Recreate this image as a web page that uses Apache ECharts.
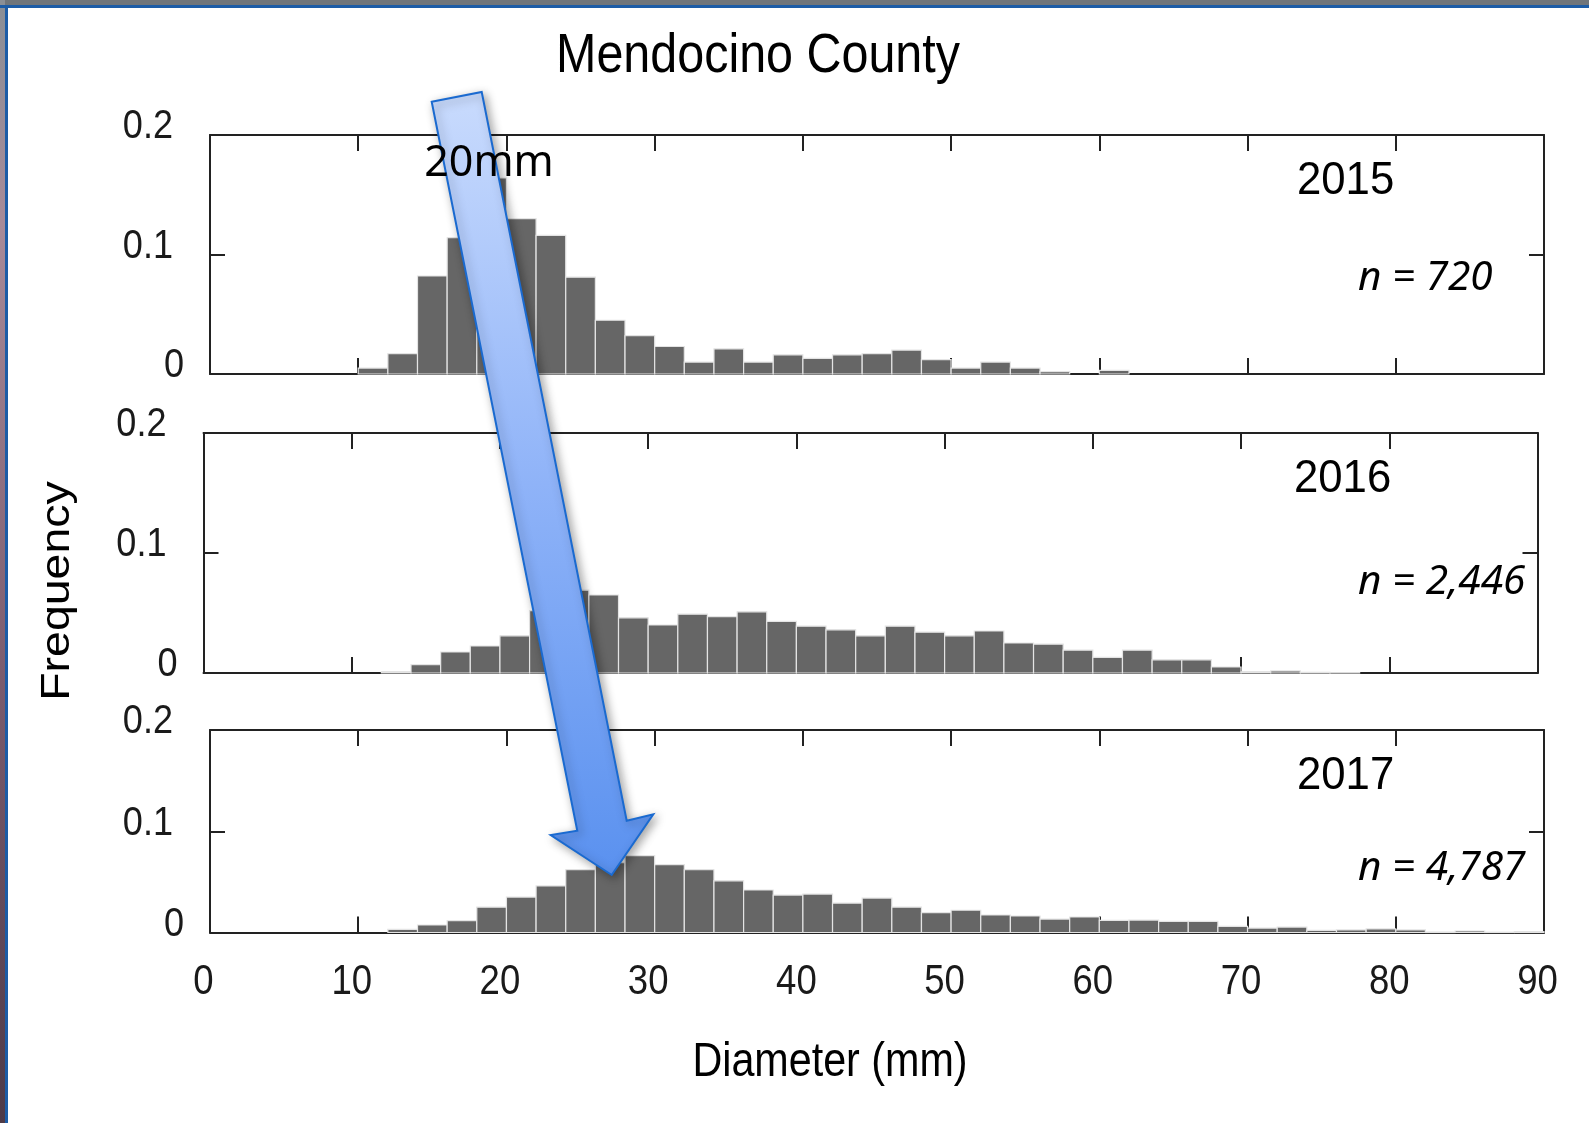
<!DOCTYPE html>
<html>
<head>
<meta charset="utf-8">
<script src="https://cdn.jsdelivr.net/npm/echarts@6/dist/echarts.min.js"></script>
<style>
html, body { margin: 0; padding: 0; background: #fff; }
#main { width: 1589px; height: 1123px; }
</style>
</head>
<body>
<div id="main"></div>
<script>
// left edges of the 2 mm diameter bins
var binStart = [10,12,14,16,18,20,22,24,26,28,30,32,34,36,38,40,42,44,46,48,
                50,52,54,56,58,60,62,64,66,68,70,72,74,76,78,80,82,84,86,88];
var binWidth = 2;

var freq2015 = [0.005,0.017,0.082,0.114,0.164,0.130,0.116,0.081,0.045,0.032,
                0.023,0.010,0.021,0.010,0.016,0.013,0.016,0.017,0.020,0.012,
                0.005,0.010,0.005,0.002,0,0.003,0,0,0,0,
                0,0,0,0,0,0,0,0,0,0];
var freq2016 = [0,0.001,0.007,0.0175,0.0225,0.031,0.052,0.069,0.065,0.046,
                0.040,0.049,0.047,0.051,0.043,0.039,0.036,0.031,0.039,0.034,
                0.031,0.035,0.025,0.024,0.019,0.013,0.019,0.011,0.011,0.005,
                0.001,0.0017,0.0006,0.0003,0,0,0,0,0,0];
var freq2017 = [0,0.003,0.0074,0.0117,0.025,0.035,0.046,0.062,0.069,0.076,
                0.067,0.062,0.051,0.042,0.037,0.038,0.029,0.034,0.025,0.0196,
                0.022,0.0173,0.0163,0.0133,0.0153,0.012,0.0123,0.011,0.011,0.0061,
                0.0044,0.0054,0.0021,0.0025,0.0035,0.0025,0.0005,0.0015,0.0003,0.0008];

var xTicks = [0, 10, 20, 30, 40, 50, 60, 70, 80, 90];
var yTicks = [0, 0.1, 0.2];
var years = ['2015', '2016', '2017'];
var counts = ['n = 720', 'n = 2,446', 'n = 4,787'];

var SANS = "'Liberation Sans', Arial, sans-serif";
var NOTO = "'Noto Sans', sans-serif";
var INK = '#1a1a1a';

var dom = document.getElementById('main');
var myChart = echarts.init(dom);

var grids = [
    {left: 210,   top: 135, width: 1334, height: 239},
    {left: 203.5, top: 433, width: 1334, height: 240},
    {left: 210,   top: 730, width: 1334, height: 202.5}
];

function binData(freq) {
    return binStart.map(function (b, i) { return [b, b + binWidth, freq[i]]; });
}

function renderBin(params, api) {
    var y = api.value(2);
    if (!(y > 0)) return null;
    var p0 = api.coord([api.value(0), y]);
    var p1 = api.coord([api.value(1), 0]);
    return {
        type: 'rect',
        shape: {x: p0[0], y: p0[1], width: p1[0] - p0[0], height: p1[1] - p0[1]},
        style: {fill: '#666666', stroke: '#e4e4e4', lineWidth: 1.2}
    };
}

var frameLine = {show: true, onZero: false, lineStyle: {color: '#222', width: 2}};

function frameAxis(g, type, pos, min, max, step, tickLen) {
    return {
        type: 'value', gridIndex: g, position: pos, min: min, max: max, interval: step,
        axisLine: frameLine,
        axisTick: {show: true, inside: true, length: tickLen, lineStyle: {color: '#222', width: 2}},
        splitLine: {show: false},
        axisLabel: {show: false}
    };
}

var xAxes = [], yAxes = [], series = [];
[freq2015, freq2016, freq2017].forEach(function (freq, g) {
    xAxes.push(frameAxis(g, 'x', 'bottom', 0, 90, 10, 16));
    xAxes.push(frameAxis(g, 'x', 'top', 0, 90, 10, 16));
    yAxes.push(frameAxis(g, 'y', 'left', 0, 0.2, 0.1, 15));
    yAxes.push(frameAxis(g, 'y', 'right', 0, 0.2, 0.1, 15));
    series.push({
        name: years[g],
        type: 'custom',
        xAxisIndex: g * 2,
        yAxisIndex: g * 2,
        renderItem: renderBin,
        encode: {x: [0, 1], y: 2},
        data: binData(freq),
        z: 2
    });
});

function label(text, x, y, size, opts) {
    opts = opts || {};
    return {
        type: 'text', x: x, y: y, z: opts.z || 50,
        rotation: opts.rotation || 0,
        scaleX: opts.scaleX || 1, scaleY: opts.scaleY || 1,
        style: {
            text: text, fontSize: size, fontFamily: opts.family || SANS,
            fontStyle: opts.italic ? 'italic' : 'normal',
            fill: opts.color || '#000', align: opts.align || 'center', verticalAlign: 'middle'
        }
    };
}

var graphics = [
    // slide frame
    {type: 'rect', shape: {x: 0, y: 0, width: 1589, height: 5}, style: {fill: '#70757a'}, z: 0},
    {type: 'rect', shape: {x: 0, y: 0, width: 5, height: 1123},
     style: {fill: new echarts.graphic.LinearGradient(0, 0, 0, 1, [
         {offset: 0, color: '#8a8f96'}, {offset: 0.2, color: '#a88a98'},
         {offset: 0.6, color: '#7c5c6e'}, {offset: 1, color: '#4e3a48'}])}, z: 0},
    {type: 'rect', shape: {x: 0, y: 5, width: 1589, height: 3}, style: {fill: '#1d5ca6'}, z: 0},
    {type: 'rect', shape: {x: 5, y: 5, width: 3, height: 1118}, style: {fill: '#1d5ca6'}, z: 0},

    label('Mendocino County', 758, 57, 56, {scaleX: 0.865}),
    label('Frequency', 58, 591, 46.5, {rotation: Math.PI / 2, scaleY: 0.86}),
    label('Diameter (mm)', 830, 1063, 48, {scaleX: 0.86}),

    label(years[0], 1297, 181, 46, {align: 'left', scaleX: 0.95}),
    label(years[1], 1294, 479, 46, {align: 'left', scaleX: 0.95}),
    label(years[2], 1297, 776, 46, {align: 'left', scaleX: 0.95}),

    label(counts[0], 1358, 278, 40.5, {align: 'left', italic: true, family: NOTO}),
    label(counts[1], 1358, 582, 40.5, {align: 'left', italic: true, family: NOTO}),
    label(counts[2], 1358, 868, 40.5, {align: 'left', italic: true, family: NOTO}),

    // shift arrow drawn over the histograms
    {
        type: 'polygon', z: 100,
        shape: {points: [[431.7, 101.7], [481.7, 92], [626.7, 820.7], [653.3, 814.3],
                         [611.7, 875], [550.7, 835], [577.3, 830.7]]},
        style: {
            fill: new echarts.graphic.LinearGradient(0, 0, 0, 1, [
                {offset: 0, color: '#c9dbfd'}, {offset: 0.5, color: '#8fb3f8'},
                {offset: 1, color: '#5a91ef'}]),
            stroke: '#1a6ad0', lineWidth: 2,
            shadowBlur: 10, shadowColor: 'rgba(0,0,0,0.35)', shadowOffsetX: 3, shadowOffsetY: 3
        }
    },
    label('20mm', 489, 164, 43, {z: 110, family: NOTO})
];

option = {
    backgroundColor: '#fff',
    animation: false,
    grid: grids.map(function (g) {
        return {left: g.left, top: g.top, width: g.width, height: g.height, outerBoundsMode: 'none'};
    }),
    xAxis: xAxes,
    yAxis: yAxes,
    series: series,
    graphic: graphics
};

myChart.setOption(option);

// tick labels: placed from the axis scales, narrowed like the source figure
var tickLabels = [];
grids.forEach(function (grid, g) {
    yTicks.forEach(function (v) {
        var py = myChart.convertToPixel({yAxisIndex: g * 2}, v);
        var px = myChart.convertToPixel({xAxisIndex: g * 2}, 0);
        tickLabels.push(label(v === 0 ? '0' : v.toFixed(1), px - (v === 0 ? 26 : 37), py - 8, 41,
            {align: 'right', scaleX: 0.88, color: INK}));
    });
});
var baseY = myChart.convertToPixel({yAxisIndex: 4}, 0);
xTicks.forEach(function (v) {
    var px = myChart.convertToPixel({xAxisIndex: 4}, v);
    tickLabels.push(label(String(v), px - 6.5, baseY + 49.5, 42, {scaleX: 0.87, color: INK}));
});

myChart.setOption({graphic: graphics.concat(tickLabels)});
</script>
</body>
</html>
